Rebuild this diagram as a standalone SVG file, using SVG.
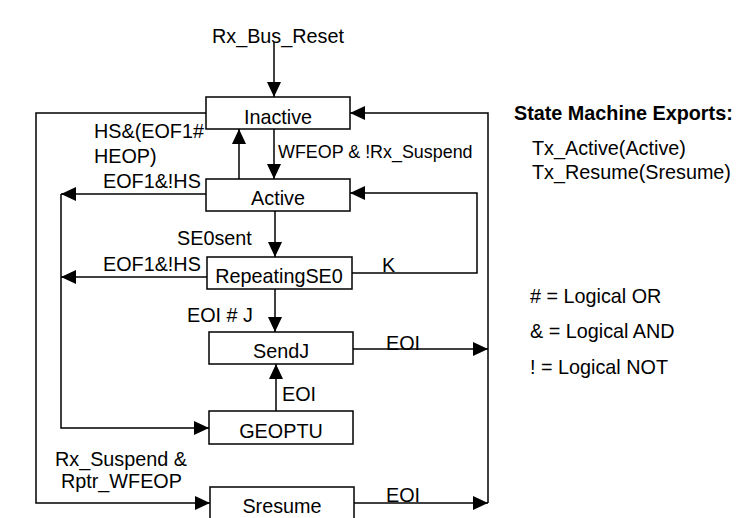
<svg xmlns="http://www.w3.org/2000/svg" width="754" height="518" viewBox="0 0 754 518">
<style>
.box{fill:#fff;stroke:#000;stroke-width:1.5}
.ln{fill:none;stroke:#000;stroke-width:1.5}
.ar{fill:none;stroke:#000;stroke-width:1.5;marker-end:url(#ah)}
text{font-family:"Liberation Sans",Arial,sans-serif;font-size:19.8px;fill:#000}
.c{text-anchor:middle}
.s{font-size:17.9px}
.b{font-weight:bold}
</style>
<defs>
<marker id="ah" markerUnits="userSpaceOnUse" markerWidth="15" markerHeight="14" refX="15" refY="7" orient="auto">
<path d="M0,0 L15,7 L0,14 z" fill="#000"/>
</marker>
</defs>
<g id="connectors">
<path class="ar" d="M274,42 L274,97"/>
<path class="ar" d="M274,129 L274,179"/>
<path class="ar" d="M239,180 L239,129"/>
<path class="ar" d="M206,194 L61,194"/>
<path class="ar" d="M207,277 L61,277"/>
<path class="ar" d="M61,194 L61,428 L209,428"/>
<path class="ar" d="M275,211 L275,257"/>
<path class="ar" d="M275,289 L275,332"/>
<path class="ar" d="M276,411 L276,364"/>
<path class="ar" d="M352,273 L477,273 L477,193 L350,193"/>
<path class="ar" d="M353,349 L488,349"/>
<path class="ar" d="M354,503 L488,503"/>
<path class="ar" d="M488,503 L488,113 L350,113"/>
<path class="ar" d="M206,113 L36,113 L36,503 L210,503"/>
</g>
<g id="connector-labels">
<text x="212" y="43">Rx_Bus_Reset</text>
<text x="94" y="138">HS&amp;(EOF1#</text>
<text x="94" y="163">HEOP)</text>
<text class="s" x="278" y="158">WFEOP &amp; !Rx_Suspend</text>
<text x="103" y="188">EOF1&amp;!HS</text>
<text x="177" y="245">SE0sent</text>
<text x="103" y="271">EOF1&amp;!HS</text>
<text x="382" y="272">K</text>
<text x="187" y="322">EOI # J</text>
<text x="386" y="350">EOI</text>
<text x="282" y="401">EOI</text>
<text x="55" y="466">Rx_Suspend &amp;</text>
<text x="61" y="488">Rptr_WFEOP</text>
<text x="386" y="502">EOI</text>
</g>
<g id="Inactive"><rect class="box" x="206" y="97" width="144" height="32"/><text class="c" x="278" y="124">Inactive</text></g>
<g id="Active"><rect class="box" x="206" y="179" width="144" height="32"/><text class="c" x="278" y="205">Active</text></g>
<g id="RepeatingSE0"><rect class="box" x="207" y="257" width="145" height="32"/><text class="c" x="279" y="283">RepeatingSE0</text></g>
<g id="SendJ"><rect class="box" x="209" y="332" width="144" height="32"/><text class="c" x="281" y="358">SendJ</text></g>
<g id="GEOPTU"><rect class="box" x="209" y="411" width="144" height="33"/><text class="c" x="281" y="438">GEOPTU</text></g>
<g id="Sresume"><rect class="box" x="210" y="487" width="144" height="34"/><text class="c" x="282" y="513">Sresume</text></g>
<g id="legend">
<text class="b" x="514" y="120">State Machine Exports:</text>
<text x="532" y="155">Tx_Active(Active)</text>
<text x="532" y="179">Tx_Resume(Sresume)</text>
<text x="530" y="303"># = Logical OR</text>
<text x="530" y="338">&amp; = Logical AND</text>
<text x="530" y="374">! = Logical NOT</text>
</g>
</svg>
